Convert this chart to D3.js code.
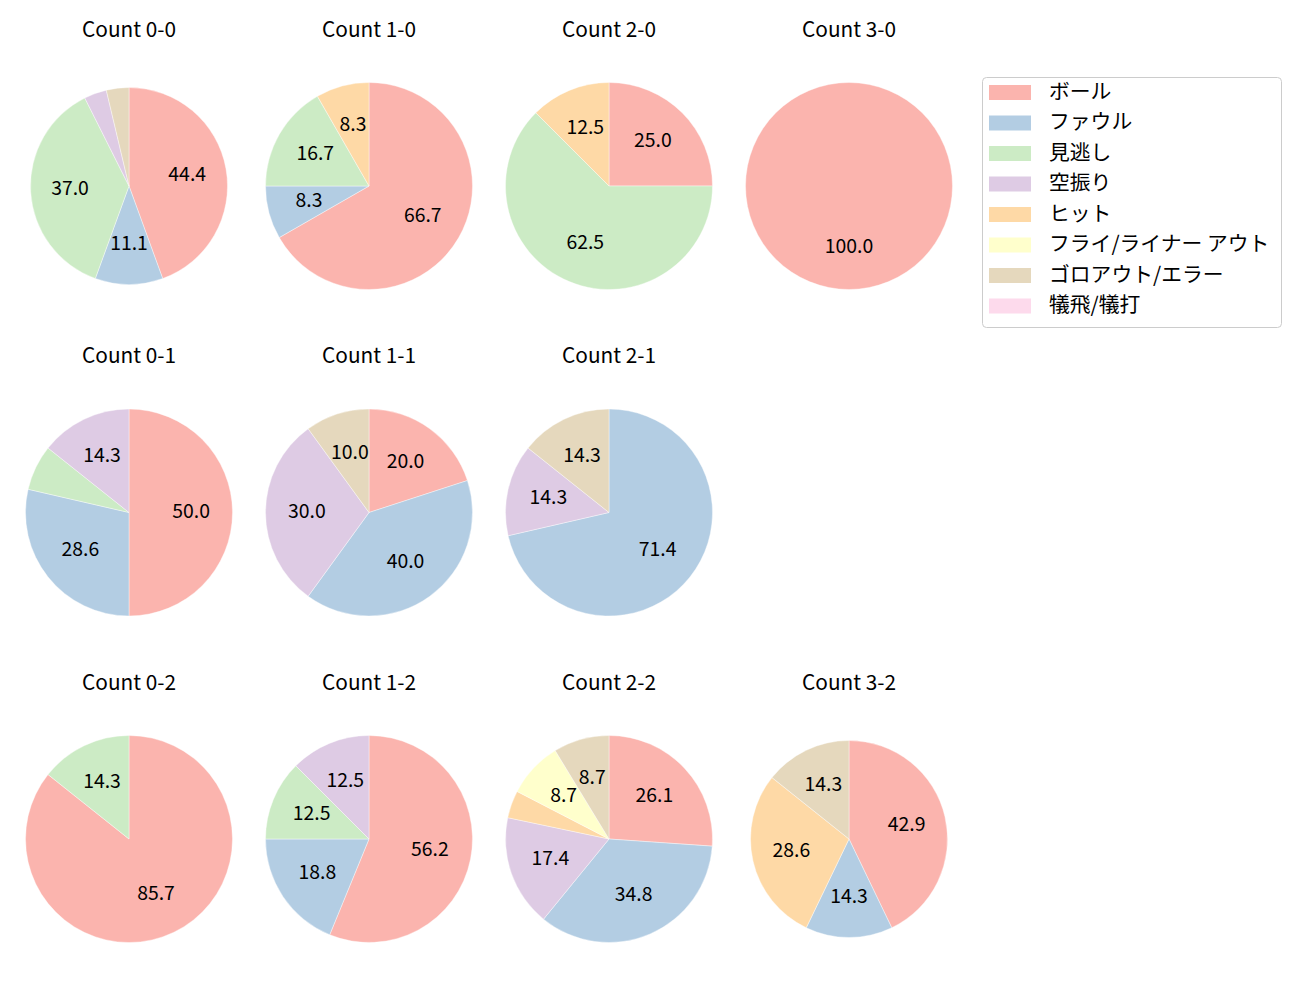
<!DOCTYPE html>
<html>
<head>
<meta charset="utf-8">
<script src="https://cdn.jsdelivr.net/npm/d3@7"></script>
<style>
  body { margin: 0; background: #fff; }
  text { font-family: "Noto Sans CJK JP", "Noto Sans", sans-serif; fill: #000; }
</style>
</head>
<body>
<div id="chart"></div>
<script>
// pitch result categories (legend order)
const categories = ["ボール", "ファウル", "見逃し", "空振り", "ヒット", "フライ/ライナー アウト", "ゴロアウト/エラー", "犠飛/犠打"];
const colors = ["#fbb4ae", "#b3cde3", "#ccebc5", "#decbe4", "#fed9a6", "#ffffcc", "#e5d8bd", "#fddaec"];

// counts shown, row by row (null = empty panel)
const panelLabels = [
  ["0-0", "1-0", "2-0", "3-0"],
  ["0-1", "1-1", "2-1", null],
  ["0-2", "1-2", "2-2", "3-2"]
];

// percentages per category
const share00 = [44.4, 11.1, 37.0, 3.7, 0, 0, 3.7, 0];
const share10 = [66.7, 8.3, 16.7, 0, 8.3, 0, 0, 0];
const share20 = [25.0, 0, 62.5, 0, 12.5, 0, 0, 0];
const share30 = [100.0, 0, 0, 0, 0, 0, 0, 0];
const share01 = [50.0, 28.6, 7.1, 14.3, 0, 0, 0, 0];
const share11 = [20.0, 40.0, 0, 30.0, 0, 0, 10.0, 0];
const share21 = [0, 71.4, 0, 14.3, 0, 0, 14.3, 0];
const share02 = [85.7, 0, 14.3, 0, 0, 0, 0, 0];
const share12 = [56.2, 18.8, 12.5, 12.5, 0, 0, 0, 0];
const share22 = [26.1, 34.8, 0, 17.4, 4.3, 8.7, 8.7, 0];
const share32 = [42.9, 14.3, 0, 0, 28.6, 0, 14.3, 0];

const shares = {
  "0-0": share00, "1-0": share10, "2-0": share20, "3-0": share30,
  "0-1": share01, "1-1": share11, "2-1": share21,
  "0-2": share02, "1-2": share12, "2-2": share22, "3-2": share32
};

// these two come out a bit smaller in the original
const smallPies = ["0-0", "3-2"];

const width = 1300, height = 1000;
const titleSize = 20.8, pctSize = 19.4;

const svg = d3.select("#chart").append("svg")
    .attr("width", width)
    .attr("height", height);

const color = d3.scaleOrdinal().domain(categories).range(colors);

const pie = d3.pie()
    .sort(null)
    .value(function(d) { return d.value; });

panelLabels.forEach(function(row, r) {
  row.forEach(function(label, c) {
    if (!label) return;
    const cx = 129 + 240 * c;
    const cy = 186 + 326.5 * r;
    const radius = smallPies.includes(label) ? 98.5 : 103.5;

    const g = svg.append("g")
        .attr("transform", "translate(" + cx + "," + cy + ")");

    // title
    g.append("text")
        .attr("x", 0)
        .attr("y", -149.5)
        .attr("text-anchor", "middle")
        .style("font-size", titleSize + "px")
        .text("Count " + label);

    const data = categories.map(function(cat, i) {
      return {cat: cat, value: shares[label][i]};
    });
    const arcs = pie(data).filter(function(d) { return d.data.value > 0; });

    const arc = d3.arc().innerRadius(0).outerRadius(radius);
    const labelArc = d3.arc().innerRadius(radius * 0.6).outerRadius(radius * 0.6);

    g.selectAll("path")
      .data(arcs)
      .enter().append("path")
        .attr("d", arc)
        .attr("fill", function(d) { return color(d.data.cat); })
        .attr("stroke", "#fff")
        .attr("stroke-width", 0.4);

    // only label slices big enough
    g.selectAll(".pct")
      .data(arcs.filter(function(d) { return d.data.value >= 8; }))
      .enter().append("text")
        .attr("class", "pct")
        .attr("transform", function(d) { return "translate(" + labelArc.centroid(d) + ")"; })
        .attr("text-anchor", "middle")
        .attr("dy", "0.27em")
        .style("font-size", pctSize + "px")
        .text(function(d) { return d.data.value.toFixed(1); });
  });
});

// legend
const legend = svg.append("g").attr("transform", "translate(982,77)");

legend.append("rect")
    .attr("x", 0.5)
    .attr("y", 0.5)
    .attr("width", 299)
    .attr("height", 250)
    .attr("rx", 4)
    .attr("fill", "#fff")
    .attr("stroke", "#cccccc");

const item = legend.selectAll(".item")
  .data(categories)
  .enter().append("g")
    .attr("class", "item")
    .attr("transform", function(d, i) { return "translate(0," + (15.5 + 30.5 * i) + ")"; });

item.append("rect")
    .attr("x", 7)
    .attr("y", -7.5)
    .attr("width", 42)
    .attr("height", 15)
    .attr("fill", function(d) { return color(d); });

item.append("text")
    .attr("x", 67)
    .attr("y", 0)
    .attr("dy", "0.3em")
    .style("font-size", titleSize + "px")
    .text(function(d) { return d; });
</script>
</body>
</html>
